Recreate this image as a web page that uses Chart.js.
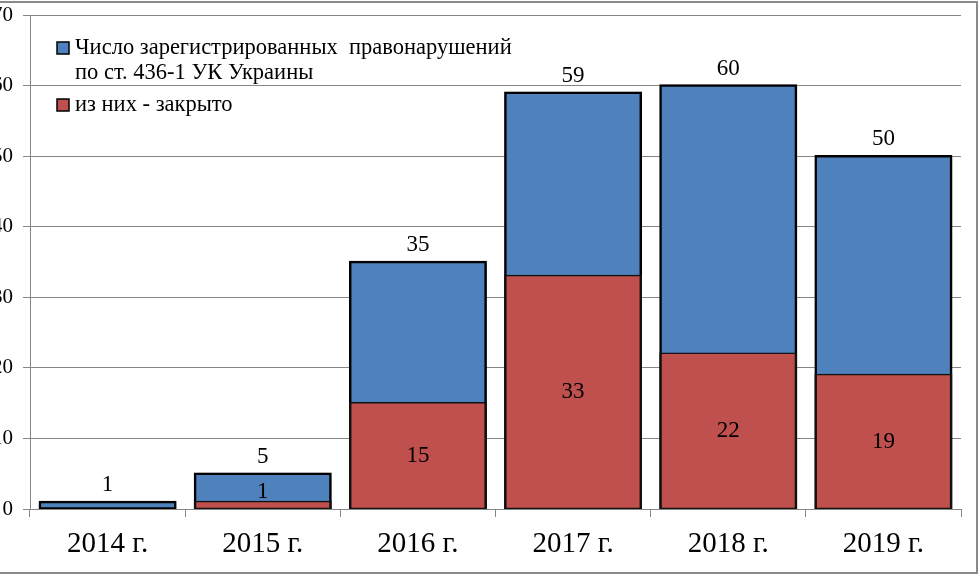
<!DOCTYPE html>
<html>
<head>
<meta charset="utf-8">
<script src="https://cdn.jsdelivr.net/npm/chart.js@4.4.0/dist/chart.umd.min.js"></script>
<style>
  html, body { margin: 0; padding: 0; background: #fff; overflow: hidden; }
  body { width: 979px; height: 575px; position: relative; }
  #frame { position: absolute; left: -10px; top: 1px; width: 988px; height: 573px;
           box-sizing: border-box; border: 2px solid #8a8a8a; }
  #chart { position: absolute; left: -20px; top: 0; }
</style>
</head>
<body>
<div id="frame"></div>
<canvas id="chart" width="999" height="575"></canvas>
<script>
// data
const years = ['2014 г.', '2015 г.', '2016 г.', '2017 г.', '2018 г.', '2019 г.']
const registered = [1, 5, 35, 59, 60, 50]
const closed = [0, 1, 15, 33, 22, 19]
const yTicks = [0, 10, 20, 30, 40, 50, 60, 70]
const legendRegistered = ['Число зарегистрированных  правонарушений', 'по ст. 436-1 УК Украины']
const legendClosed = ['из них - закрыто']

const serif = '"Liberation Serif", "DejaVu Serif", serif'
const blue = '#4f81bd'
const red = '#c0504d'

// soft shadow under the outlined bars
const shadowPlugin = {
    id: 'barShadow',
    beforeDatasetDraw(chart, args) {
        if (args.index !== 0) return
        const ctx = chart.ctx
        ctx.save()
        ctx.shadowColor = 'rgba(0,0,0,0.35)'
        ctx.shadowBlur = 4
        ctx.shadowOffsetX = 1
        ctx.shadowOffsetY = 1
    },
    afterDatasetDraw(chart, args) {
        if (args.index !== 0) return
        chart.ctx.restore()
    }
}

// value labels: totals above the bar, closed cases inside the red part
const labelsPlugin = {
    id: 'valueLabels',
    afterDatasetsDraw(chart) {
        const ctx = chart.ctx
        ctx.save()
        ctx.font = '23px ' + serif
        ctx.fillStyle = '#000'
        ctx.textAlign = 'center'
        ctx.textBaseline = 'middle'
        const blueMeta = chart.getDatasetMeta(0)
        blueMeta.data.forEach((bar, i) => {
            ctx.fillText(String(registered[i]), bar.x, bar.y - 17)
        })
        const redMeta = chart.getDatasetMeta(1)
        redMeta.data.forEach((bar, i) => {
            if (!closed[i]) return
            const mid = (bar.y + bar.base) / 2
            ctx.fillText(String(closed[i]), bar.x, Math.min(mid, bar.base - 17))
        })
        ctx.restore()
    }
}

// legend box inside the plot, top-left
const legendPlugin = {
    id: 'boxLegend',
    afterDraw(chart) {
        const ctx = chart.ctx
        const x0 = 77
        ctx.save()
        ctx.font = '22.5px ' + serif
        ctx.textBaseline = 'middle'
        const items = [
            { color: blue, lines: legendRegistered, y: 48 },
            { color: red, lines: legendClosed, y: 105 }
        ]
        items.forEach(item => {
            ctx.fillStyle = item.color
            ctx.fillRect(x0, item.y - 6, 12, 12)
            ctx.strokeStyle = '#000'
            ctx.lineWidth = 1.5
            ctx.strokeRect(x0, item.y - 6, 12, 12)
            ctx.fillStyle = '#000'
            item.lines.forEach((line, k) => {
                ctx.fillText(line, x0 + 18, item.y + k * 25)
            })
        })
        ctx.restore()
    }
}

new Chart(document.getElementById('chart'), {
    type: 'bar',
    data: {
        labels: years,
        datasets: [
            {
                label: legendRegistered.join(' '),
                data: registered,
                backgroundColor: blue,
                borderColor: '#000',
                borderWidth: 2.5,
                borderSkipped: false,
                inflateAmount: 1.25,
                order: 1
            },
            {
                label: legendClosed[0],
                data: closed,
                backgroundColor: red,
                borderColor: '#111',
                borderWidth: c => closed[c.dataIndex] ? { top: 1.5, left: 2.5, right: 2.5, bottom: 2 } : 0,
                borderSkipped: false,
                inflateAmount: c => closed[c.dataIndex] ? 1.25 : 0,
                order: 0
            }
        ]
    },
    options: {
        responsive: false,
        animation: false,
        events: [],
        layout: { padding: { top: 15, right: 18, left: 0, bottom: 0 } },
        datasets: { bar: { categoryPercentage: 1, barPercentage: 0.873 } },
        plugins: { legend: { display: false }, tooltip: { enabled: false } },
        scales: {
            x: {
                stacked: true,
                offset: true,
                grid: { display: true, drawOnChartArea: false, drawTicks: true, tickLength: 8, color: '#868686', offset: true },
                border: { display: true, color: '#868686' },
                ticks: { color: '#000', font: { family: serif, size: 29 }, padding: 10, maxRotation: 0 },
                afterFit(scale) { scale.height = 66 }
            },
            y: {
                stacked: false,
                min: yTicks[0],
                max: yTicks[yTicks.length - 1],
                afterBuildTicks(scale) { scale.ticks = yTicks.map(v => ({ value: v })) },
                grid: { color: '#868686', lineWidth: 1, tickLength: 7 },
                border: { display: true, color: '#868686' },
                ticks: { color: '#000', font: { family: serif, size: 21 }, padding: 10 },
                afterFit(scale) {
                    scale.width = 50
                    scale.paddingTop = 0
                    scale.paddingBottom = 0
                }
            }
        }
    },
    plugins: [shadowPlugin, labelsPlugin, legendPlugin]
})
</script>
</body>
</html>
